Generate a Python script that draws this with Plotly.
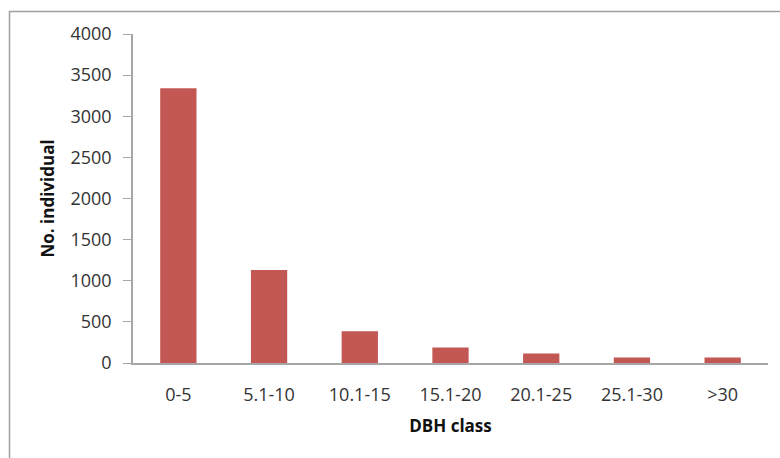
import plotly.graph_objects as go

# Number of individuals per DBH class
dbh_classes = ["0-5", "5.1-10", "10.1-15", "15.1-20", "20.1-25", "25.1-30", ">30"]
individuals = [3340, 1130, 385, 188, 114, 66, 66]

y_ticks = [0, 500, 1000, 1500, 2000, 2500, 3000, 3500, 4000]

W, H = 780, 458
L, R, T, B = 133, 12, 34, 95
plot_w = W - L - R
plot_h = H - T - B

fig = go.Figure(
    go.Bar(
        x=dbh_classes,
        y=individuals,
        marker=dict(color="#C35754", line=dict(width=0)),
    )
)

axis_grey = "#A6A6A6"
text_col = "#333333"

fig.update_layout(
    width=W,
    height=H,
    margin=dict(l=L, r=R, t=T, b=B),
    paper_bgcolor="white",
    plot_bgcolor="white",
    bargap=0.6,
    showlegend=False,
    font=dict(family="Open Sans", size=18, color=text_col),
    xaxis=dict(
        showline=True,
        linecolor=axis_grey,
        linewidth=1.5,
        ticks="",
        showgrid=False,
        ticklabelstandoff=15,
        tickfont=dict(size=18, color=text_col),
        title=dict(text="<b>DBH class</b>", font=dict(size=17, color="#111111"), standoff=15),
    ),
    yaxis=dict(
        range=[0, 4000],
        tickvals=y_ticks,
        showline=True,
        linecolor=axis_grey,
        linewidth=1.5,
        ticks="outside",
        ticklen=8,
        tickcolor=axis_grey,
        showgrid=False,
        zeroline=False,
        ticklabelstandoff=8,
        tickfont=dict(size=18, color=text_col),
        title=dict(text="<b>No. individual</b>", font=dict(size=17, color="#111111"), standoff=12),
    ),
)

# Chart-area border (top and left edges visible)
fig.add_shape(
    type="rect",
    xref="paper",
    yref="paper",
    x0=(9.5 - L) / plot_w,
    x1=(W + 20 - L) / plot_w,
    y0=-(H + 20 - (T + plot_h)) / plot_h,
    y1=(T + plot_h - 11.5) / plot_h,
    line=dict(color="#A0A0A0", width=1.5),
    layer="below",
)

fig.write_html("out.html")
